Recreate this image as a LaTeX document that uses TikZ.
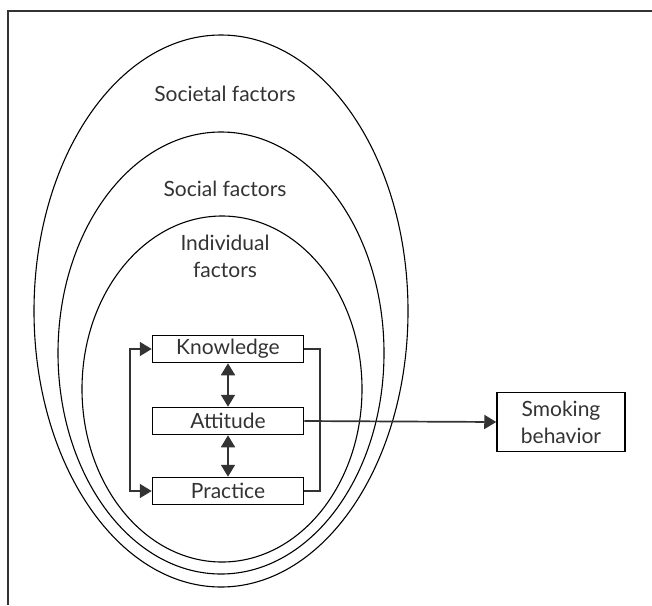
\documentclass[tikz,border=0pt]{standalone}
\usepackage{fontspec}
\setmainfont{Lato}
\usetikzlibrary{arrows.meta,positioning}
\definecolor{inkgrey}{HTML}{333333}
\tikzset{
  factorbox/.style={draw=black, line width=1.5pt, minimum width=151pt, minimum height=27pt, inner sep=0pt, text=inkgrey},
  ring/.style={draw=black, line width=1.1pt},
  factortext/.style={text=inkgrey, align=center},
  link/.style={inkgrey, line width=1.7pt, >={Triangle[length=12pt,width=14pt]}},
}
\begin{document}
\begin{tikzpicture}[x=1pt, y=-1pt, font=\fontsize{21}{27}\selectfont]
  \useasboundingbox (0,0) rectangle (652,605);
  % frame
  \draw [inkgrey, line width=1.2pt] (8,605) -- (8,11) -- (652,11);
  % nested factor ellipses
  \draw [ring] (221,311) ellipse [x radius=187, y radius=276];
  \draw [ring] (221,353) ellipse [x radius=163, y radius=221];
  \draw [ring] (222,389) ellipse [x radius=140, y radius=173];
  \node [factortext] (societal) at (225,94) {Societal factors};
  \node [factortext] (social) at (225,189) {Social factors};
  \node [factortext] (individual) at (225,256) {Individual\\factors};
  % knowledge - attitude - practice
  \node [factorbox] (know) at (228,349) {Knowledge};
  \node [factorbox] (att) at (228,421) {Attitude};
  \node [factorbox] (prac) at (228,491) {Practice};
  \node [factorbox, minimum width=128pt, minimum height=59pt, align=center] (smoke) at (561,422) {Smoking\\behavior};
  \draw [link, <->] (know.south) -- (att.north);
  \draw [link, <->] (att.south) -- (prac.north);
  \draw [link, <->] (know.west) -- ++(-22,0) |- (prac.west);
  \draw [link] (know.east) -- ++(16,0) |- (prac.east);
  \draw [link, ->] (att.east) -- (smoke.west);
\end{tikzpicture}
\end{document}
